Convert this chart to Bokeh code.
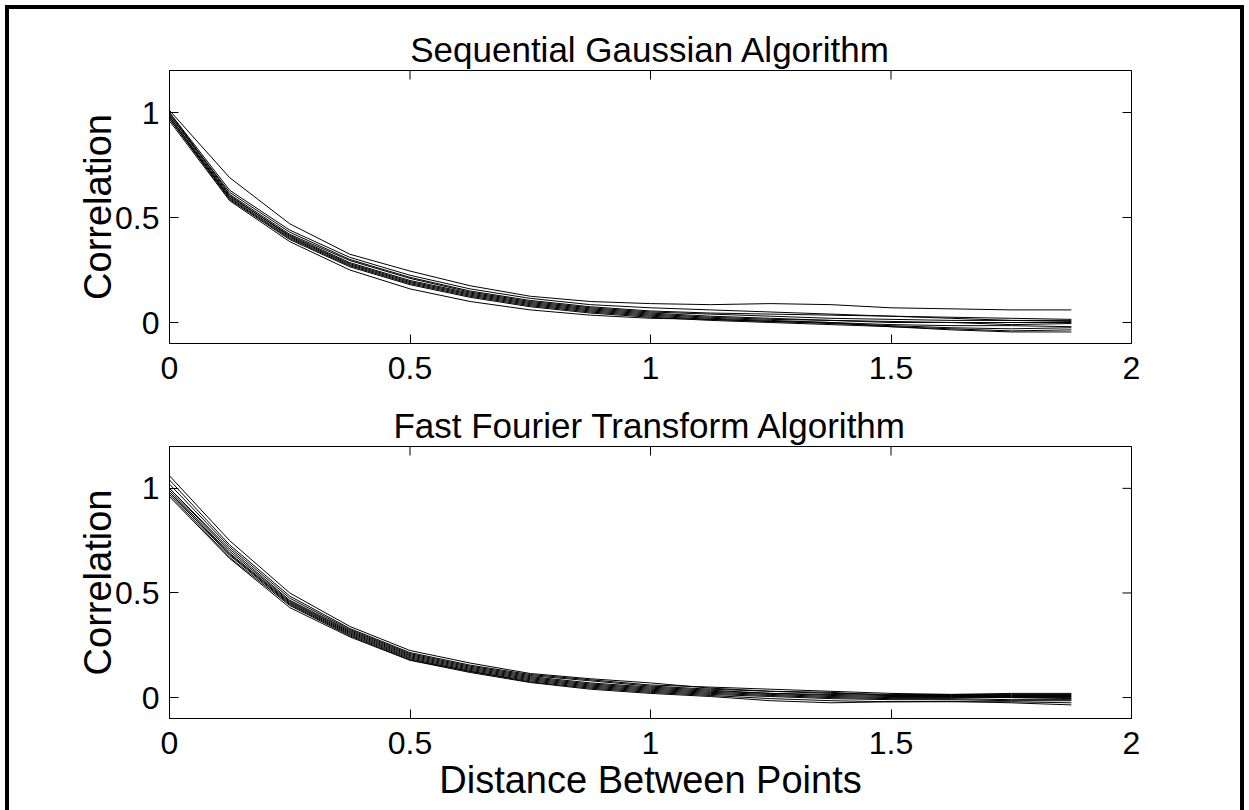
import math
from bokeh.plotting import figure
from bokeh.layouts import column
from bokeh.models import Range1d, FixedTicker, LinearAxis
from bokeh.embed import file_html
from bokeh.resources import INLINE

# ---- data ----
distance = [0.0, 0.125, 0.25, 0.375, 0.5, 0.625, 0.75, 0.875, 1.0,
            1.125, 1.25, 1.375, 1.5, 1.625, 1.75, 1.875]

sga_1 = [1.01, 0.69, 0.47, 0.325, 0.245, 0.175, 0.125, 0.100, 0.090, 0.085, 0.090, 0.085, 0.070, 0.065, 0.060, 0.060]
sga_2 = [1.00, 0.63, 0.44, 0.310, 0.225, 0.160, 0.115, 0.085, 0.070, 0.060, 0.050, 0.040, 0.030, 0.025, 0.020, 0.015]
sga_3 = [0.99, 0.62, 0.43, 0.300, 0.215, 0.150, 0.105, 0.075, 0.055, 0.045, 0.040, 0.035, 0.030, 0.020, 0.010, 0.005]
sga_4 = [1.00, 0.61, 0.42, 0.295, 0.210, 0.145, 0.100, 0.070, 0.050, 0.040, 0.030, 0.020, 0.015, 0.010, 0.010, 0.010]
sga_5 = [0.98, 0.60, 0.415, 0.285, 0.200, 0.140, 0.095, 0.065, 0.045, 0.030, 0.020, 0.010, 0.000, 0.000, 0.000, 0.000]
sga_6 = [0.99, 0.605, 0.41, 0.280, 0.195, 0.135, 0.090, 0.060, 0.040, 0.025, 0.015, 0.010, 0.005, 0.000, -0.010, -0.005]
sga_7 = [0.97, 0.595, 0.405, 0.275, 0.190, 0.130, 0.085, 0.055, 0.035, 0.020, 0.010, 0.000, -0.010, -0.015, -0.015, -0.020]
sga_8 = [0.98, 0.59, 0.40, 0.270, 0.185, 0.125, 0.080, 0.050, 0.030, 0.015, 0.005, -0.005, -0.015, -0.025, -0.030, -0.025]
sga_9 = [0.97, 0.585, 0.395, 0.265, 0.180, 0.120, 0.075, 0.045, 0.025, 0.010, 0.000, -0.010, -0.020, -0.030, -0.040, -0.035]
sga_10 = [0.96, 0.58, 0.385, 0.250, 0.160, 0.100, 0.060, 0.035, 0.020, 0.015, 0.005, 0.000, -0.020, -0.035, -0.045, -0.045]

fft_1 = [1.06, 0.75, 0.50, 0.340, 0.225, 0.165, 0.115, 0.090, 0.070, 0.045, 0.030, 0.020, 0.015, 0.015, 0.020, 0.020]
fft_2 = [1.04, 0.73, 0.485, 0.330, 0.215, 0.155, 0.110, 0.085, 0.060, 0.050, 0.040, 0.030, 0.020, 0.015, 0.015, 0.015]
fft_3 = [1.02, 0.72, 0.475, 0.325, 0.210, 0.150, 0.105, 0.080, 0.055, 0.040, 0.030, 0.025, 0.010, 0.010, 0.010, 0.010]
fft_4 = [1.00, 0.71, 0.465, 0.320, 0.205, 0.145, 0.100, 0.070, 0.050, 0.035, 0.020, 0.015, 0.010, 0.005, 0.005, 0.005]
fft_5 = [1.00, 0.70, 0.46, 0.315, 0.200, 0.140, 0.095, 0.065, 0.045, 0.030, 0.020, 0.010, 0.005, 0.005, 0.000, 0.000]
fft_6 = [0.99, 0.69, 0.455, 0.310, 0.195, 0.135, 0.090, 0.060, 0.040, 0.025, 0.015, 0.005, 0.000, 0.000, 0.000, -0.005]
fft_7 = [0.98, 0.685, 0.45, 0.305, 0.190, 0.130, 0.085, 0.055, 0.035, 0.020, 0.010, 0.000, -0.005, -0.005, -0.010, -0.010]
fft_8 = [0.98, 0.68, 0.445, 0.300, 0.185, 0.125, 0.080, 0.050, 0.030, 0.015, 0.005, -0.005, -0.010, -0.010, -0.015, -0.015]
fft_9 = [0.97, 0.67, 0.44, 0.295, 0.180, 0.125, 0.075, 0.045, 0.025, 0.010, -0.005, -0.015, -0.020, -0.020, -0.020, -0.025]
fft_10 = [0.96, 0.665, 0.43, 0.290, 0.178, 0.120, 0.072, 0.040, 0.020, 0.005, -0.015, -0.025, -0.020, -0.018, -0.025, -0.035]

sga_series = [sga_1, sga_2, sga_3, sga_4, sga_5, sga_6, sga_7, sga_8, sga_9, sga_10]
fft_series = [fft_1, fft_2, fft_3, fft_4, fft_5, fft_6, fft_7, fft_8, fft_9, fft_10]

X_MIN, X_MAX = 0, 2
Y_MIN, Y_MAX = -0.1, 1.2
x_ticks = [0, 0.5, 1, 1.5, 2]
x_tick_labels = ["0", "0.5", "1", "1.5", "2"]
y_ticks = [0, 0.5, 1]
y_tick_labels = ["0", "0.5", "1"]

title_top = "Sequential Gaussian Algorithm"
title_bottom = "Fast Fourier Transform Algorithm"
y_label = "Correlation"
x_label = "Distance Between Points"

FONT = "Liberation Sans"
TICK_FS = "32px"
TITLE_FS = "35px"
LABEL_FS = "38px"


def style_axis(ax, ticks, labels):
    ax.ticker = FixedTicker(ticks=ticks)
    ax.major_label_overrides = {t: l for t, l in zip(ticks, labels)}
    ax.major_tick_in = 9
    ax.major_tick_out = 0
    ax.minor_tick_in = 0
    ax.minor_tick_out = 0
    ax.axis_line_color = "black"
    ax.axis_line_width = 1
    ax.major_tick_line_color = "black"
    ax.major_tick_line_width = 1
    ax.major_label_text_font = FONT
    ax.major_label_text_font_size = TICK_FS
    ax.major_label_text_color = "black"
    ax.axis_label_text_font = FONT
    ax.axis_label_text_font_size = LABEL_FS
    ax.axis_label_text_font_style = "normal"
    ax.axis_label_text_color = "black"


def make_plot(series, title, height, top, bottom, xlabel=None):
    p = figure(width=1231, height=height, output_backend="svg", toolbar_location=None,
               x_range=Range1d(X_MIN, X_MAX), y_range=Range1d(Y_MIN, Y_MAX),
               min_border_left=160, min_border_right=109,
               min_border_top=top, min_border_bottom=bottom,
               x_axis_location=None, y_axis_location=None)
    p.grid.visible = False
    p.outline_line_color = "black"
    p.outline_line_width = 1
    p.background_fill_color = "white"
    p.border_fill_color = "white"
    p.title.text = title
    p.title.align = "center"
    p.title.text_font = FONT
    p.title.text_font_size = TITLE_FS
    p.title.text_font_style = "normal"
    p.title.text_color = "black"
    p.title.standoff = 4

    xb = LinearAxis()
    style_axis(xb, x_ticks, x_tick_labels)
    xb.major_label_standoff = 13
    if xlabel:
        xb.axis_label = xlabel
        xb.axis_label_standoff = 2
    p.add_layout(xb, "below")
    yl = LinearAxis(axis_label=y_label)
    style_axis(yl, y_ticks, y_tick_labels)
    yl.major_label_standoff = 10
    yl.axis_label_standoff = -7
    p.add_layout(yl, "left")

    # mirrored inward ticks on the top and right edges of the box
    p.scatter(x_ticks, [Y_MAX] * len(x_ticks), marker="dash", angle=math.pi / 2,
              size=18, line_color="black", line_width=1)
    p.scatter([X_MAX] * len(y_ticks), y_ticks, marker="dash",
              size=18, line_color="black", line_width=1)

    for s in series:
        p.line(distance, s, line_color="black", line_width=1)
    return p


p1 = make_plot(sga_series, title_top, 386, 61, 52)
p2 = make_plot(fft_series, title_bottom, 415, 51, 92, xlabel=x_label)

layout = column(p1, p2, spacing=0,
                styles={"border": "4px solid black", "border-bottom": "none",
                        "margin-left": "5px", "margin-top": "5px"})

open("out.html", "w").write(file_html(layout, INLINE))
